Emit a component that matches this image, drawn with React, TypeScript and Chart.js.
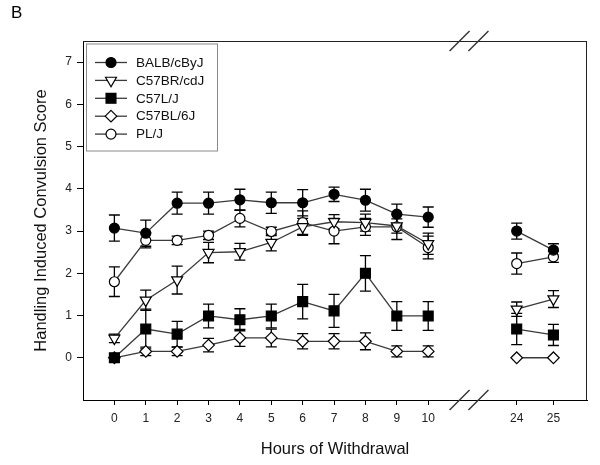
import React, { useEffect, useRef } from "react";
import { Chart, registerables } from "chart.js";

Chart.register(...registerables);

// ---- data ----
const hours = [0, 1, 2, 3, 4, 5, 6, 7, 8, 9, 10, 24, 25];
const yTickValues = [0, 1, 2, 3, 4, 5, 6, 7];

const seriesNames = ["BALB/cByJ", "C57BR/cdJ", "C57L/J", "C57BL/6J", "PL/J"];

const balb = [3.07, 2.95, 3.66, 3.66, 3.74, 3.67, 3.67, 3.87, 3.73, 3.4, 3.33, 3.0, 2.55];
const balbErr = [0.31, 0.31, 0.26, 0.26, 0.25, 0.25, 0.31, 0.17, 0.26, 0.24, 0.24, 0.19, 0.15];

const c57br = [0.46, 1.36, 1.84, 2.49, 2.51, 2.73, 3.1, 3.22, 3.2, 3.12, 2.7, 1.15, 1.39];
const c57brErr = [0.1, 0.24, 0.33, 0.24, 0.2, 0.2, 0.2, 0.17, 0.2, 0.17, 0.25, 0.17, 0.2];

const c57l = [0, 0.68, 0.56, 0.99, 0.9, 0.99, 1.33, 1.11, 2.0, 0.99, 0.99, 0.68, 0.54];
const c57lErr = [0, 0.47, 0.3, 0.28, 0.26, 0.28, 0.41, 0.39, 0.42, 0.34, 0.34, 0.37, 0.25];

const c57bl = [0, 0.15, 0.15, 0.3, 0.47, 0.47, 0.39, 0.39, 0.39, 0.15, 0.15, 0, 0];
const c57blErr = [0, 0.1, 0.1, 0.16, 0.2, 0.21, 0.18, 0.18, 0.2, 0.13, 0.13, 0, 0];

const plj = [1.8, 2.78, 2.78, 2.9, 3.3, 2.99, 3.2, 3.0, 3.1, 3.1, 2.61, 2.23, 2.39];
const pljErr = [0.35, 0.18, 0.1, 0.1, 0.2, 0.1, 0.28, 0.3, 0.2, 0.3, 0.27, 0.25, 0.13];

// ---- axis break transform (hours -> axis units) ----
const BREAK_AFTER = 10;
const RESUME_HOUR = 24;
const RESUME_POS = 12.82;
const SECOND_SEGMENT_SCALE = 1.17;
const xPos = (h: number) =>
  h <= BREAK_AFTER ? h : RESUME_POS + (h - RESUME_HOUR) * SECOND_SEGMENT_SCALE;

const LINE_COLOR = "#3a3a3a";
const FONT = "'Liberation Sans', Arial, sans-serif";

type Style = { shape: string; fill: string; radius: number; rotation: number };
const styles: Style[] = [
  { shape: "circle", fill: "#000", radius: 5, rotation: 0 },
  { shape: "triangle", fill: "#fff", radius: 6.3, rotation: 180 },
  { shape: "rect", fill: "#000", radius: 7, rotation: 0 },
  { shape: "rectRot", fill: "#fff", radius: 5.8, rotation: 0 },
  { shape: "circle", fill: "#fff", radius: 5, rotation: 0 },
];

const values = [balb, c57br, c57l, c57bl, plj];
const errors = [balbErr, c57brErr, c57lErr, c57blErr, pljErr];

function drawMarker(ctx: CanvasRenderingContext2D, s: Style, x: number, y: number) {
  const r = s.radius;
  ctx.beginPath();
  if (s.shape === "circle") {
    ctx.arc(x, y, r, 0, Math.PI * 2);
  } else if (s.shape === "triangle") {
    const a = r * Math.sin(Math.PI / 3);
    ctx.moveTo(x, y + r);
    ctx.lineTo(x - a, y - r / 2);
    ctx.lineTo(x + a, y - r / 2);
    ctx.closePath();
  } else if (s.shape === "rect") {
    const h = r * Math.SQRT1_2;
    ctx.rect(x - h, y - h, 2 * h, 2 * h);
  } else {
    ctx.moveTo(x, y - r);
    ctx.lineTo(x + r, y);
    ctx.lineTo(x, y + r);
    ctx.lineTo(x - r, y);
    ctx.closePath();
  }
  ctx.fillStyle = s.fill;
  ctx.fill();
  ctx.strokeStyle = "#000";
  ctx.lineWidth = 1.2;
  ctx.stroke();
}

const decorPlugin = {
  id: "decor",
  beforeDatasetsDraw(chart: any) {
    const ctx = chart.ctx as CanvasRenderingContext2D;
    const yScale = chart.scales.y;
    ctx.save();
    ctx.strokeStyle = "#000";
    ctx.lineWidth = 1.3;
    chart.data.datasets.forEach((_ds: any, di: number) => {
      const meta = chart.getDatasetMeta(di);
      meta.data.forEach((pt: any, i: number) => {
        const e = errors[di][i];
        if (!e) return;
        const v = values[di][i];
        const x = pt.x;
        const yt = yScale.getPixelForValue(v + e);
        const yb = yScale.getPixelForValue(v - e);
        ctx.beginPath();
        ctx.moveTo(x, yt);
        ctx.lineTo(x, yb);
        ctx.moveTo(x - 5.5, yt);
        ctx.lineTo(x + 5.5, yt);
        ctx.moveTo(x - 5.5, yb);
        ctx.lineTo(x + 5.5, yb);
        ctx.stroke();
      });
    });
    ctx.restore();
  },
  afterDraw(chart: any) {
    const ctx = chart.ctx as CanvasRenderingContext2D;
    const { left, right, top, bottom } = chart.chartArea;
    const xScale = chart.scales.x;
    ctx.save();
    // frame top & right
    ctx.strokeStyle = "#222";
    ctx.lineWidth = 1;
    ctx.beginPath();
    ctx.moveTo(left, top + 0.5);
    ctx.lineTo(right, top + 0.5);
    ctx.moveTo(right - 0.5, top);
    ctx.lineTo(right - 0.5, bottom);
    ctx.stroke();

    // break marks
    ctx.strokeStyle = "#333";
    ctx.lineWidth = 1.4;
    [11.0, 11.6].forEach((p) => {
      const cx = xScale.getPixelForValue(p);
      [top, bottom].forEach((cy) => {
        ctx.beginPath();
        ctx.moveTo(cx - 10, cy + 10);
        ctx.lineTo(cx + 10, cy - 10);
        ctx.stroke();
      });
    });

    // legend
    const lx = left + 3;
    const ly = top + 2.5;
    const lw = 131;
    const lh = 107;
    ctx.fillStyle = "#fff";
    ctx.fillRect(lx, ly, lw, lh);
    ctx.strokeStyle = "#8a8a8a";
    ctx.lineWidth = 1;
    ctx.strokeRect(lx + 0.5, ly + 0.5, lw, lh);
    ctx.font = `13.5px ${FONT}`;
    ctx.textBaseline = "middle";
    ctx.textAlign = "left";
    seriesNames.forEach((name, i) => {
      const yy = ly + 19 + i * 17.9;
      ctx.strokeStyle = LINE_COLOR;
      ctx.lineWidth = 1.3;
      ctx.beginPath();
      ctx.moveTo(lx + 9, yy);
      ctx.lineTo(lx + 41, yy);
      ctx.stroke();
      drawMarker(ctx, styles[i], lx + 25, yy);
      ctx.fillStyle = "#111";
      ctx.fillText(name, lx + 50, yy + 0.5);
    });

    // panel letter
    ctx.fillStyle = "#000";
    ctx.font = `17px ${FONT}`;
    ctx.textBaseline = "alphabetic";
    ctx.fillText("B", 11, 17.5);
    ctx.restore();
  },
};

export default function App() {
  const ref = useRef<HTMLCanvasElement | null>(null);

  useEffect(() => {
    if (!ref.current) return;
    const datasets = seriesNames.map((name, i) => ({
      label: name,
      data: hours.map((h, k) => ({ x: xPos(h), y: values[i][k] })),
      borderColor: LINE_COLOR,
      borderWidth: 1.3,
      pointStyle: styles[i].shape,
      pointRadius: styles[i].radius,
      pointRotation: styles[i].rotation,
      pointBackgroundColor: styles[i].fill,
      pointBorderColor: "#000",
      pointBorderWidth: 1.2,
      fill: false,
      tension: 0,
      segment: {
        borderColor: (c: any) => (hours[c.p0DataIndex] === BREAK_AFTER ? "transparent" : LINE_COLOR),
      },
    }));

    const chart = new Chart(ref.current, {
      type: "line",
      data: { datasets },
      plugins: [decorPlugin],
      options: {
        responsive: false,
        animation: false,
        devicePixelRatio: 1,
        layout: { padding: { top: 41, right: 13, left: 0, bottom: 0 } },
        plugins: { legend: { display: false }, tooltip: { enabled: false } },
        scales: {
          x: {
            type: "linear",
            min: -1,
            max: 15.06,
            afterBuildTicks: (scale: any) => {
              scale.ticks = hours.map((h) => ({ value: xPos(h) }));
            },
            afterFit: (scale: any) => {
              scale.height = 65;
            },
            ticks: {
              autoSkip: false,
              maxRotation: 0,
              padding: 6,
              color: "#222",
              font: { family: FONT, size: 12 },
              callback: (v: any) => {
                const i = hours.findIndex((h) => Math.abs(xPos(h) - Number(v)) < 1e-6);
                return i >= 0 ? String(hours[i]) : "";
              },
            },
            grid: { drawOnChartArea: false, drawTicks: true, tickLength: 5, color: "#000" },
            border: { display: true, color: "#000", width: 1 },
            title: {
              display: true,
              text: "Hours of Withdrawal",
              color: "#111",
              font: { family: FONT, size: 16.5 },
              padding: { top: 0, bottom: 6 },
            },
          },
          y: {
            type: "linear",
            min: -1,
            max: 7.5,
            afterBuildTicks: (scale: any) => {
              scale.ticks = yTickValues.map((v) => ({ value: v }));
            },
            afterFit: (scale: any) => {
              scale.width = 83;
            },
            ticks: {
              padding: 5,
              color: "#222",
              font: { family: FONT, size: 12 },
              callback: (v: any) => String(v),
            },
            grid: { drawOnChartArea: false, drawTicks: true, tickLength: 6, color: "#000" },
            border: { display: true, color: "#000", width: 1 },
            title: {
              display: true,
              text: "Handling Induced Convulsion Score",
              color: "#111",
              font: { family: FONT, size: 16.5 },
              padding: { top: 32, bottom: 0 },
            },
          },
        },
      } as any,
    });
    return () => chart.destroy();
  }, []);

  return (
    <div style={{ position: "fixed", left: 0, top: 0, width: 600, height: 465, background: "#fff" }}>
      <canvas ref={ref} width={600} height={465} />
    </div>
  );
}
